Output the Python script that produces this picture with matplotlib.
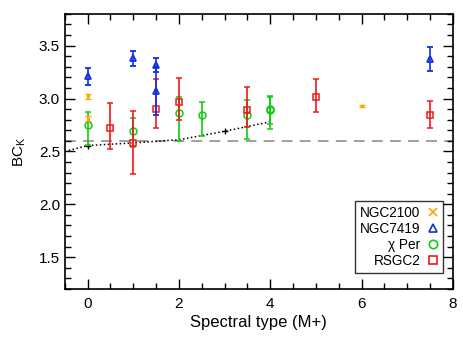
import matplotlib
matplotlib.use("Agg")
import matplotlib.pyplot as plt
from matplotlib.ticker import MultipleLocator
import numpy as np

plt.rcParams['font.family'] = ['Liberation Sans', 'DejaVu Sans']
plt.rcParams['mathtext.fontset'] = 'custom'
plt.rcParams['mathtext.rm'] = 'Liberation Sans'

# NGC2100
n2100_x = [0, 0, 6]
n2100_y = [3.02, 2.81, 2.93]
n2100_err = [0.02, 0.025, 0.01]

# NGC7419
n7419_x = [0, 1, 1.5, 1.5, 7.5]
n7419_y = [3.21, 3.38, 3.32, 3.07, 3.37]
n7419_lo = [0.08, 0.07, 0.07, 0.23, 0.11]
n7419_hi = [0.08, 0.07, 0.06, 0.23, 0.12]

# chi Per
chi_x = [0, 1, 2, 2.5, 3.5, 4, 4]
chi_y = [2.75, 2.69, 2.86, 2.84, 2.84, 2.90, 2.89]
chi_lo = [0.19, 0.15, 0.26, 0.19, 0.22, 0.14, 0.18]
chi_hi = [0.12, 0.13, 0.15, 0.13, 0.15, 0.12, 0.12]

# RSGC2
rsg_x = [0.5, 1, 1.5, 2, 3.5, 5, 7.5]
rsg_y = [2.72, 2.58, 2.90, 2.97, 2.89, 3.01, 2.84]
rsg_lo = [0.20, 0.29, 0.18, 0.17, 0.16, 0.14, 0.12]
rsg_hi = [0.24, 0.30, 0.28, 0.22, 0.22, 0.17, 0.14]

# relation (dotted)
rel_x = [-0.5, 0, 1, 2, 3, 4]
rel_y = [2.50, 2.555, 2.58, 2.61, 2.69, 2.78]
cross_x = [0, 3]
cross_y = [2.555, 2.69]

ref_level = 2.6

fig = plt.figure(figsize=(4.63, 3.48), dpi=100)
ax = fig.add_axes([0.14, 0.17, 0.838, 0.79])

ax.axhline(ref_level, color='#999999', lw=1.3, ls=(0, (6, 4)), zorder=1)
ax.plot(rel_x, rel_y, color='black', lw=1.1, ls=(0, (1, 1.6)), zorder=2)
ax.plot(cross_x, cross_y, ls='none', marker='+', color='black', ms=5, mew=1, zorder=2)

cs = 2
orange = '#FFA500'
blue = '#1030E0'
green = '#10CC10'
red = '#F01818'

ax.errorbar(chi_x, chi_y, yerr=[chi_lo, chi_hi], fmt='o', mfc='none', mec=green,
            ecolor=green, ms=5, mew=1.1, elinewidth=1.2, capsize=cs, capthick=1.2, zorder=3)
ax.errorbar(rsg_x, rsg_y, yerr=[rsg_lo, rsg_hi], fmt='s', mfc='none', mec=red,
            ecolor=red, ms=5, mew=1.1, elinewidth=1.2, capsize=cs, capthick=1.2, zorder=4)
ax.errorbar(n7419_x, n7419_y, yerr=[n7419_lo, n7419_hi], fmt='^', mfc='none', mec=blue,
            ecolor=blue, ms=5, mew=1.3, elinewidth=1.2, capsize=cs, capthick=1.2, zorder=5)
ax.errorbar(n2100_x, n2100_y, yerr=n2100_err, fmt='x', color=orange,
            ecolor=orange, ms=2, mew=1, elinewidth=1.2, capsize=cs, capthick=1.2, zorder=5)

# legend handles
h1 = ax.plot([], [], 'x', color=orange, ms=6, mew=1.2)[0]
h2 = ax.plot([], [], '^', mfc='none', mec=blue, ms=6, mew=1.2)[0]
h3 = ax.plot([], [], 'o', mfc='none', mec=green, ms=6, mew=1.2)[0]
h4 = ax.plot([], [], 's', mfc='none', mec=red, ms=6, mew=1.2)[0]
leg = ax.legend([h1, h2, h3, h4], ['NGC2100', 'NGC7419', 'χ Per', 'RSGC2'],
                loc='lower right', markerfirst=False, fontsize=9.8, frameon=True,
                fancybox=False, edgecolor='black', handlelength=0.8,
                handletextpad=0.5, labelspacing=0.15, borderpad=0.35,
                borderaxespad=0, bbox_to_anchor=(0.974, 0.058), alignment='right')
leg.get_frame().set_linewidth(1.0)
for t in leg.get_texts():
    t.set_ha('right')

ax.set_xlim(-0.5, 8)
ax.set_ylim(1.2, 3.8)
ax.xaxis.set_major_locator(MultipleLocator(2))
ax.xaxis.set_minor_locator(MultipleLocator(0.5))
ax.yaxis.set_major_locator(MultipleLocator(0.5))
ax.yaxis.set_minor_locator(MultipleLocator(0.1))
ax.yaxis.set_major_formatter(matplotlib.ticker.FormatStrFormatter('%.1f'))
ax.tick_params(which='both', direction='in', top=True, right=True, labelsize=11)
ax.tick_params(axis='x', which='major', pad=6)
ax.tick_params(which='major', length=7, width=1)
ax.tick_params(which='minor', length=4, width=1)
for s in ax.spines.values():
    s.set_linewidth(1.2)

ax.set_xlabel('Spectral type (M+)', fontsize=12, labelpad=3)
ax.set_ylabel(r'BC$_\mathregular{K}$', fontsize=11, labelpad=8)

fig.savefig('out.png', dpi=100)
